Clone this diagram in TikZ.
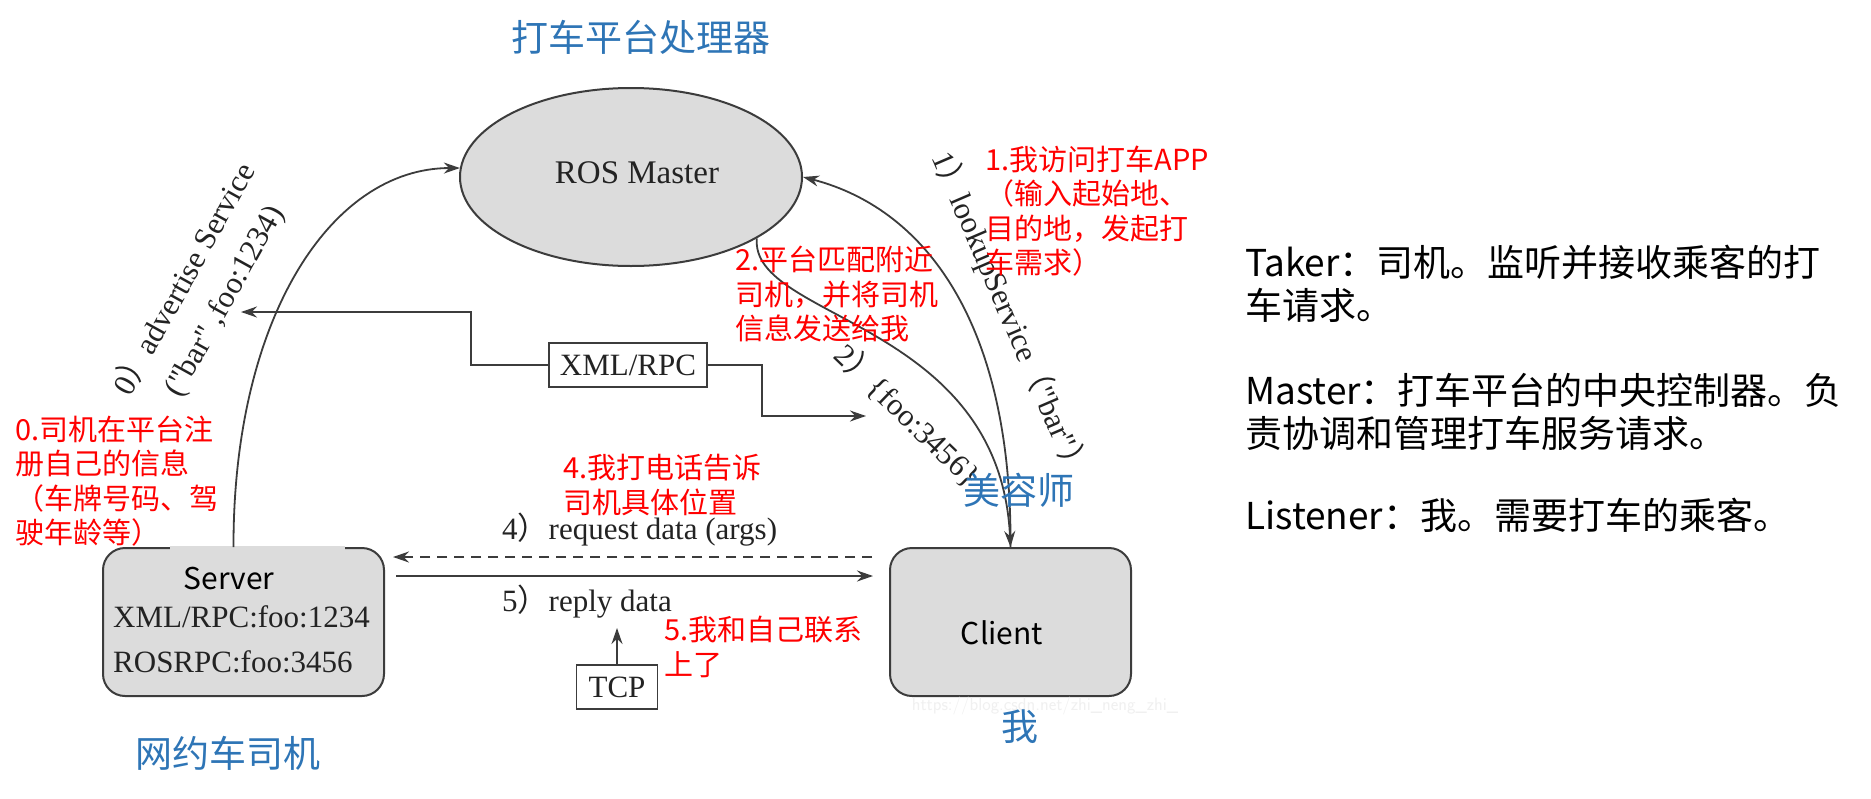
\documentclass[tikz,border=0pt]{standalone}
\usepackage{fontspec}
\setmainfont{Liberation Serif}[Ligatures=TeXOff]
\newfontfamily\cjk{Noto Sans CJK SC}
\usetikzlibrary{arrows.meta,shapes.geometric}
\definecolor{bluelbl}{RGB}{46,117,182}
\definecolor{redlbl}{RGB}{255,0,0}
\definecolor{boxfill}{RGB}{220,220,220}
\definecolor{linec}{RGB}{60,60,60}
\definecolor{txtc}{RGB}{35,35,35}
\begin{document}
\begin{tikzpicture}[x=1pt,y=-1pt,
  conn/.style={draw=linec, line width=1.8pt, -{Stealth[length=16pt,width=11pt]}},
  diag/.style={text=txtc, font=\fontsize{31}{37}\selectfont, inner sep=0pt},
  sanslbl/.style={text=black, font=\cjk\fontsize{30}{36}\selectfont, inner sep=0pt},
  redl/.style={text=redlbl, font=\cjk\fontsize{29}{34.5}\selectfont, align=left, anchor=west, inner sep=0pt},
  bluel/.style={text=bluelbl, font=\cjk\fontsize{37}{44}\selectfont, inner sep=0pt},
  blk/.style={text=black, font=\cjk\fontsize{37}{43}\selectfont, align=left, anchor=west, inner sep=0pt},
  gbox/.style={draw=linec, line width=2pt, fill=boxfill, rounded corners=22pt},
  wbox/.style={draw=linec, line width=1.8pt, fill=white, inner sep=0pt}]
\useasboundingbox (0,0) rectangle (1871,798);
\fill[white] (0,0) rectangle (1871,798);

% main shapes
\node[ellipse, draw=linec, line width=2pt, fill=boxfill, minimum width=342pt, minimum height=178pt, inner sep=0pt] (master) at (631,177) {};
\node[diag, font=\fontsize{33}{40}\selectfont] (mastertxt) at (637,173) {ROS Master};

\node[gbox, minimum width=281pt, minimum height=148pt] (server) at (243.5,622) {};
\fill[boxfill] (170,545.5) rectangle (345,550.5);
\node[sanslbl] (servertxt) at (229,578) {Server};
\node[diag, anchor=west] (xml1) at (113,617) {XML/RPC:foo:1234};
\node[diag, anchor=west] (ros1) at (113,662) {ROSRPC:foo:3456};

\node[gbox, minimum width=241pt, minimum height=148pt] (client) at (1010.5,622) {};
\node[sanslbl] (clienttxt) at (1002,633) {Client};

\node[wbox, diag, minimum width=158pt, minimum height=44pt] (xml) at (628,365) {XML/RPC};
\node[wbox, diag, minimum width=81pt, minimum height=44pt] (tcp) at (617,687) {TCP};

\coordinate (advtip) at (241,312);
\coordinate (looktip) at (866,416);
\coordinate (tcptip) at (617,628);

% connectors
\draw[conn] ([xshift=-10pt]server.north) .. controls (233,320) and (330,168) .. (master.177);
\draw[conn] (client.north) .. controls (1012,330) and (930,210) .. (master.east);
\draw[conn] (master.-26) .. controls (750,320) and (1000,320) .. (client.north);
\draw[conn] (xml.west) -- ++(-77,0) |- (advtip);
\draw[conn] (xml.east) -- ++(54,0) |- (looktip);
\draw[conn] (tcp.north) -- (tcptip);
\draw[conn, dash pattern=on 10pt off 7pt] ([xshift=-17pt,yshift=-10pt]client.north west) -- ([xshift=8pt,yshift=-10pt]server.north east);
\draw[conn] ([xshift=11pt,yshift=-29pt]server.north east) -- ([xshift=-16pt,yshift=-29pt]client.north west);

% connector labels
\node[diag, rotate=61, align=center, font=\fontsize{31}{45}\selectfont] (advlbl) at (204,290) {0{\cjk ）}advertise Service\\("bar" ,foo:1234)};
\node[diag, rotate=-66.7] (looklbl) at (1010,315) {1{\cjk ）}lookupService{\cjk （}"bar"{\cjk ）}};
\node[diag, rotate=-44] (replbl) at (908,415) {2{\cjk ）}\{foo:3456\}};
\node[diag, anchor=west] (reqlbl) at (502,530) {4{\cjk ）}request data (args)};
\node[diag, anchor=west] (rpllbl) at (502,602) {5{\cjk ）}reply data};

% watermark
\node[text=gray!12, font=\fontsize{18}{21}\selectfont\sffamily, inner sep=0pt] (wm) at (1045,706) {https://blog.csdn.net/zhi\_neng\_zhi\_};

% blue labels
\node[bluel] (title) at (641,37) {打车平台处理器};
\node[bluel] (drv) at (228,753) {网约车司机};
\node[bluel] (beaut) at (1019,490) {美容师};
\node[bluel] (me) at (1020,727) {我};

% red annotations
\node[redl] (r0) at (15,481) {0.司机在平台注\\册自己的信息\\（车牌号码、驾\\驶年龄等）};
\node[redl] (r1) at (985,211) {1.我访问打车APP\\（输入起始地、\\目的地，发起打\\车需求）};
\node[redl] (r2) at (735,294) {2.平台匹配附近\\司机，并将司机\\信息发送给我};
\node[redl] (r4) at (563,485) {4.我打电话告诉\\司机具体位置};
\node[redl] (r5) at (664,647) {5.我和自己联系\\上了};

% right side text
\node[blk] (taker) at (1245,284) {Taker：司机。监听并接收乘客的打\\车请求。};
\node[blk] (mst) at (1245,412) {Master：打车平台的中央控制器。负\\责协调和管理打车服务请求。};
\node[blk] (lis) at (1245,515) {Listener：我。需要打车的乘客。};
\end{tikzpicture}
\end{document}
